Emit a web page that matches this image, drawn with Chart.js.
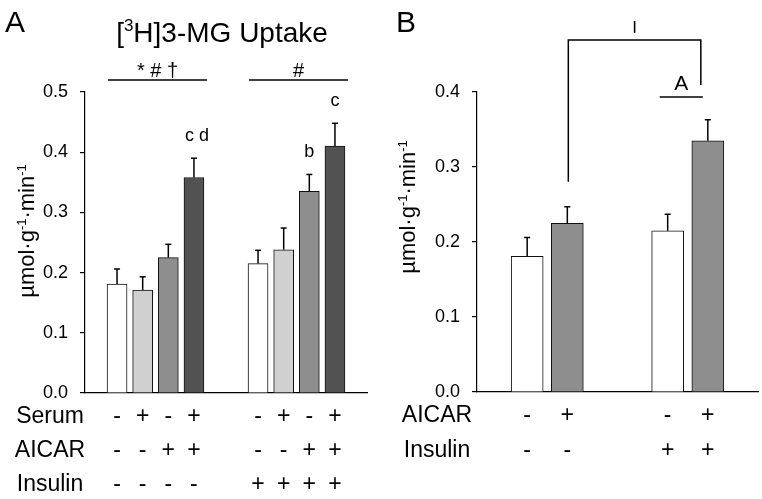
<!DOCTYPE html>
<html lang="en">
<head>
<meta charset="UTF-8">
<title>3-MG uptake</title>
<script src="https://cdn.jsdelivr.net/npm/chart.js"></script>
<style>
  body { margin: 0; background: #fff; }
  .wrap { position: relative; width: 762px; height: 499px; }
  canvas { position: absolute; top: 0; }
  #panelA { left: 0; }
  #panelB { left: 380px; }
</style>
</head>
<body>
<div class="wrap">
  <canvas id="panelA" width="380" height="499"></canvas>
  <canvas id="panelB" width="382" height="499"></canvas>
</div>

<script>
  // ---- panel A data (8 conditions, two groups of 4) ----
  const uptakeA = [0.181, 0.171, 0.225, 0.358, 0.215, 0.238, 0.335, 0.410];
  const semA    = [0.025, 0.022, 0.022, 0.032, 0.022, 0.036, 0.028, 0.038];
  const serumA   = ['-', '+', '-', '+', '-', '+', '-', '+'];
  const aicarA   = ['-', '-', '+', '+', '-', '-', '+', '+'];
  const insulinA = ['-', '-', '-', '-', '+', '+', '+', '+'];
  const lettersA = ['', '', '', 'c d', '', '', 'b', 'c'];
  const sigA = [{ from: 0, to: 3, label: '* # \u2020' }, { from: 4, to: 7, label: '#' }];
  const colorsA = ['#ffffff', '#d0d0d0', '#8e8e8e', '#525252', '#ffffff', '#d0d0d0', '#8e8e8e', '#525252'];

  // ---- panel B data (4 conditions, two groups of 2) ----
  const uptakeB = [0.181, 0.225, 0.215, 0.335];
  const semB    = [0.025, 0.022, 0.022, 0.028];
  const aicarB   = ['-', '+', '-', '+'];
  const insulinB = ['-', '-', '+', '+'];
  const colorsB = ['#ffffff', '#8e8e8e', '#ffffff', '#8e8e8e'];

  const yTitle = [['\u00b5mol\u00b7g', 0], ['-1', 1], ['\u00b7min', 0], ['-1', 1]];

  const FONT = "'Liberation Sans', Arial, sans-serif";
  Chart.defaults.font.family = FONT;
  Chart.defaults.color = '#000';

  // x slot of each bar: 1 unit apart inside a group, extra gap between groups
  function slots(n, perGroup) {
    const out = [];
    for (let i = 0; i < n; i++) out.push(1.25 + i + Math.floor(i / perGroup) * 1.5);
    return out;
  }

  function text(ctx, s, x, y, size, align) {
    ctx.font = size + 'px ' + FONT;
    ctx.textAlign = align || 'center';
    ctx.textBaseline = 'alphabetic';
    ctx.fillText(s, x, y);
  }

  // text with superscript pieces, centred at x
  function richText(ctx, parts, size, supSize, x, y) {
    let w = 0;
    parts.forEach(([s, sup]) => { ctx.font = (sup ? supSize : size) + 'px ' + FONT; w += ctx.measureText(s).width; });
    let cx = x - w / 2;
    ctx.textAlign = 'left';
    ctx.textBaseline = 'alphabetic';
    parts.forEach(([s, sup]) => {
      ctx.font = (sup ? supSize : size) + 'px ' + FONT;
      ctx.fillText(s, cx, sup ? y - size * 0.38 : y);
      cx += ctx.measureText(s).width;
    });
  }

  function line(ctx, x1, y1, x2, y2) {
    ctx.beginPath();
    ctx.moveTo(x1, y1);
    ctx.lineTo(x2, y2);
    ctx.stroke();
  }

  function makePanel(id, cfg) {
    const pos = slots(cfg.values.length, cfg.perGroup);
    const overlay = {
      id: 'overlay',
      afterDatasetsDraw(chart) {
        const ctx = chart.ctx;
        const y = chart.scales.y;
        const bars = chart.getDatasetMeta(0).data;
        ctx.save();
        ctx.strokeStyle = '#000';
        ctx.fillStyle = '#000';
        ctx.lineWidth = 1.5;
        bars.forEach((b, i) => {
          const top = y.getPixelForValue(cfg.values[i] + cfg.sem[i]);
          line(ctx, b.x, b.y, b.x, top);
          line(ctx, b.x - 3, top, b.x + 3, top);
        });
        ctx.restore();
      },
      afterDraw(chart) {
        const ctx = chart.ctx;
        const area = chart.chartArea;
        ctx.save();
        ctx.fillStyle = '#000';
        ctx.strokeStyle = '#000';
        ctx.lineWidth = 1.5;
        const bars = chart.getDatasetMeta(0).data;

        // rows of +/- under the axis
        cfg.rows.forEach(r => {
          text(ctx, r.name, cfg.rowLabelX, r.y, 23);
          r.marks.forEach((m, i) => text(ctx, m, bars[i].x, r.y, 23));
        });

        // y axis title
        ctx.save();
        ctx.translate(cfg.yTitleX, cfg.yTitleY);
        ctx.rotate(-Math.PI / 2);
        richText(ctx, yTitle, 22, 13, 0, 8);
        ctx.restore();

        text(ctx, cfg.letter, cfg.letterX, 32, 30, 'left');
        if (cfg.extra) cfg.extra(chart, ctx, bars, area);
        ctx.restore();
      }
    };

    return new Chart(document.getElementById(id), {
      type: 'bar',
      data: {
        datasets: [{
          data: cfg.values.map((v, i) => ({ x: pos[i], y: v })),
          backgroundColor: cfg.colors,
          borderColor: '#111',
          borderWidth: 1,
          barThickness: cfg.barWidth
        }]
      },
      options: {
        responsive: false,
        animation: false,
        events: [],
        layout: { padding: cfg.padding },
        plugins: { legend: { display: false }, tooltip: { enabled: false } },
        scales: {
          x: {
            type: 'linear',
            min: 0,
            max: pos[pos.length - 1] + 1.25,
            offset: false,
            grid: { display: false },
            ticks: { display: false },
            border: { display: true, color: '#000', width: 1.2 },
            afterFit: s => { s.height = 0; }
          },
          y: {
            min: 0,
            max: cfg.yMax,
            ticks: { stepSize: 0.1, padding: 12, font: { size: 18 }, color: '#000',
                     callback: v => v.toFixed(1) },
            grid: { drawOnChartArea: false, tickLength: 5, color: '#000', lineWidth: 1.2 },
            border: { display: true, color: '#000', width: 1.2 },
            afterFit: s => { s.width = cfg.axisWidth; }
          }
        }
      },
      plugins: [overlay]
    });
  }

  makePanel('panelA', {
    values: uptakeA, sem: semA, colors: colorsA, perGroup: 4, barWidth: 20,
    yMax: 0.5, axisWidth: 85, padding: { top: 92, right: 13, bottom: 106, left: 0 },
    rows: [
      { name: 'Serum', marks: serumA, y: 423 },
      { name: 'AICAR', marks: aicarA, y: 457 },
      { name: 'Insulin', marks: insulinA, y: 491 }
    ],
    rowLabelX: 50, yTitleX: 26, yTitleY: 231, letter: 'A', letterX: 5,
    extra(chart, ctx, bars, area) {
      const y = chart.scales.y;
      richText(ctx, [['[', 0], ['3', 1], ['H]3-MG Uptake', 0]], 28, 17, 222, 42);
      sigA.forEach(s => {
        const x1 = bars[s.from].x - bars[s.from].width / 2 + 1;
        const x2 = bars[s.to].x + bars[s.to].width / 2 + 3;
        line(ctx, x1, area.top - 12, x2, area.top - 12);
        text(ctx, s.label, (x1 + x2) / 2, area.top - 15, 20);
      });
      lettersA.forEach((l, i) => {
        if (!l) return;
        const top = y.getPixelForValue(uptakeA[i] + semA[i]);
        text(ctx, l, bars[i].x + (l.length > 1 ? 3 : 0), top - 17, 18);
      });
    }
  });

  makePanel('panelB', {
    values: uptakeB, sem: semB, colors: colorsB, perGroup: 2, barWidth: 32,
    yMax: 0.4, axisWidth: 97, padding: { top: 92, right: 4, bottom: 107, left: 0 },
    rows: [
      { name: 'AICAR', marks: aicarB, y: 422 },
      { name: 'Insulin', marks: insulinB, y: 457 }
    ],
    rowLabelX: 57, yTitleX: 27, yTitleY: 207, letter: 'B', letterX: 16,
    extra(chart, ctx, bars, area) {
      const y = chart.scales.y;
      // bracket: AICAR basal vs AICAR + insulin
      const lx = bars[1].x + 1;
      const rx = bars[3].x - 7;
      const top = area.top - 52;
      const lBottom = y.getPixelForValue(uptakeB[1] + semB[1]) - 25;
      ctx.beginPath();
      ctx.moveTo(lx, lBottom);
      ctx.lineTo(lx, top);
      ctx.lineTo(rx, top);
      ctx.lineTo(rx, area.top - 7);
      ctx.stroke();
      text(ctx, 'I', (lx + rx) / 2, top - 7, 17);
      // insulin effect line
      const ax1 = bars[2].x - 8;
      const ax2 = bars[3].x - 5;
      line(ctx, ax1, area.top + 5, ax2, area.top + 5);
      text(ctx, 'A', (ax1 + ax2) / 2, area.top - 2, 21);
    }
  });
</script>
</body>
</html>
